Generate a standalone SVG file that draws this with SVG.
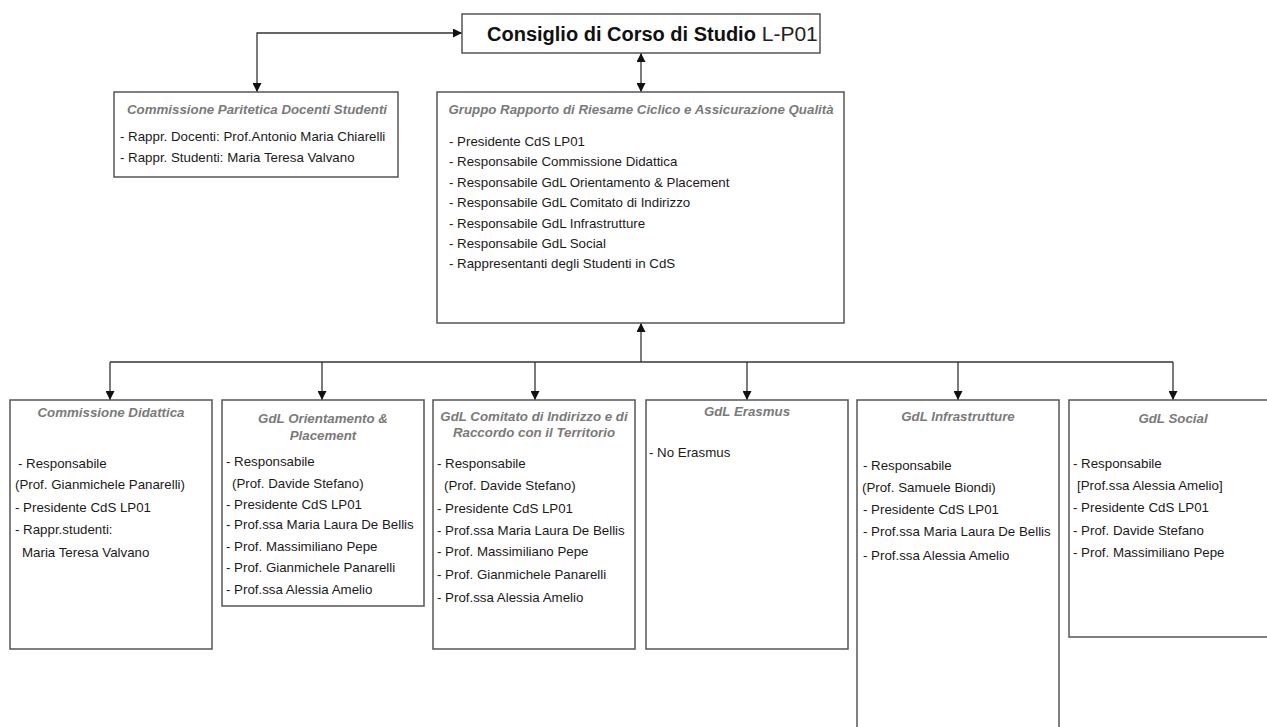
<svg xmlns="http://www.w3.org/2000/svg" width="1267" height="727" viewBox="0 0 1267 727">
<style>
.box{fill:#fff;stroke:#555;stroke-width:1.5}
.t{font-family:"Liberation Sans",Arial,sans-serif;font-size:13.3px;fill:#1a1a1a}
.h{font-family:"Liberation Sans",Arial,sans-serif;font-size:13.3px;font-weight:bold;font-style:italic;fill:#7a7a7a;text-anchor:middle}
.c{fill:none;stroke:#333;stroke-width:1.3}
</style>
<defs>
<marker id="ah" viewBox="0 0 10 10" refX="10" refY="5" markerWidth="9" markerHeight="9" markerUnits="userSpaceOnUse" orient="auto-start-reverse">
<path d="M0,0 L10,5 L0,10 z" fill="#111"/>
</marker>
</defs>
<g id="connectors">
<path class="c" d="M257,92 V33 H462" marker-start="url(#ah)" marker-end="url(#ah)"/>
<path class="c" d="M641,53 V92" marker-start="url(#ah)" marker-end="url(#ah)"/>
<path class="c" d="M641,362 V323" marker-end="url(#ah)"/>
<path class="c" d="M110,362 H1173"/>
<path class="c" d="M110,362 V400" marker-end="url(#ah)"/>
<path class="c" d="M322,362 V400" marker-end="url(#ah)"/>
<path class="c" d="M535,362 V400" marker-end="url(#ah)"/>
<path class="c" d="M747,362 V400" marker-end="url(#ah)"/>
<path class="c" d="M958,362 V400" marker-end="url(#ah)"/>
<path class="c" d="M1173,362 V400" marker-end="url(#ah)"/>
</g>
<g id="consiglio">
<rect class="box" x="462" y="14" width="358" height="39"/>
<text x="487" y="41" font-family="'Liberation Sans',Arial,sans-serif" font-size="20" fill="#111"><tspan font-weight="bold">Consiglio di Corso di Studio</tspan><tspan font-size="21" fill="#222"> L-P01</tspan></text>
</g>
<g id="paritetica">
<rect class="box" x="114" y="92" width="284" height="85"/>
<text class="h" x="257" y="114">Commissione Paritetica Docenti Studenti</text>
<text class="t" x="120" y="141">- Rappr. Docenti: Prof.Antonio Maria Chiarelli</text>
<text class="t" x="120" y="162">- Rappr. Studenti: Maria Teresa Valvano</text>
</g>
<g id="gruppo">
<rect class="box" x="437" y="92" width="407" height="231"/>
<text class="h" x="641" y="114">Gruppo Rapporto di Riesame Ciclico e Assicurazione Qualità</text>
<text class="t" x="449" y="146">- Presidente CdS LP01</text>
<text class="t" x="449" y="166">- Responsabile Commissione Didattica</text>
<text class="t" x="449" y="187">- Responsabile GdL Orientamento &amp; Placement</text>
<text class="t" x="449" y="207">- Responsabile GdL Comitato di Indirizzo</text>
<text class="t" x="449" y="228">- Responsabile GdL Infrastrutture</text>
<text class="t" x="449" y="248">- Responsabile GdL Social</text>
<text class="t" x="449" y="268">- Rappresentanti degli Studenti in CdS</text>
</g>
<g id="didattica">
<rect class="box" x="10" y="400" width="202" height="249"/>
<text class="h" x="111" y="417">Commissione Didattica</text>
<text class="t" x="18" y="468">- Responsabile</text>
<text class="t" x="15" y="489">(Prof. Gianmichele Panarelli)</text>
<text class="t" x="15" y="512">- Presidente CdS LP01</text>
<text class="t" x="15" y="534">- Rappr.studenti:</text>
<text class="t" x="22" y="557">Maria Teresa Valvano</text>
</g>
<g id="orientamento">
<rect class="box" x="222" y="400" width="202" height="206"/>
<text class="h" x="323" y="423">GdL Orientamento &amp;</text>
<text class="h" x="323" y="440">Placement</text>
<text class="t" x="226" y="466">- Responsabile</text>
<text class="t" x="232" y="488">(Prof. Davide Stefano)</text>
<text class="t" x="226" y="509">- Presidente CdS LP01</text>
<text class="t" x="226" y="529">- Prof.ssa Maria Laura De Bellis</text>
<text class="t" x="226" y="551">- Prof. Massimiliano Pepe</text>
<text class="t" x="226" y="572">- Prof. Gianmichele Panarelli</text>
<text class="t" x="226" y="594">- Prof.ssa Alessia Amelio</text>
</g>
<g id="comitato">
<rect class="box" x="433" y="400" width="202" height="249"/>
<text class="h" x="534" y="421">GdL Comitato di Indirizzo e di</text>
<text class="h" x="534" y="437">Raccordo con il Territorio</text>
<text class="t" x="437" y="468">- Responsabile</text>
<text class="t" x="444" y="490">(Prof. Davide Stefano)</text>
<text class="t" x="437" y="513">- Presidente CdS LP01</text>
<text class="t" x="437" y="535">- Prof.ssa Maria Laura De Bellis</text>
<text class="t" x="437" y="556">- Prof. Massimiliano Pepe</text>
<text class="t" x="437" y="579">- Prof. Gianmichele Panarelli</text>
<text class="t" x="437" y="602">- Prof.ssa Alessia Amelio</text>
</g>
<g id="erasmus">
<rect class="box" x="646" y="400" width="202" height="249"/>
<text class="h" x="747" y="416">GdL Erasmus</text>
<text class="t" x="649" y="457">- No Erasmus</text>
</g>
<g id="infrastrutture">
<rect class="box" x="857" y="400" width="202" height="340"/>
<text class="h" x="958" y="421">GdL Infrastrutture</text>
<text class="t" x="863" y="470">- Responsabile</text>
<text class="t" x="862" y="492">(Prof. Samuele Biondi)</text>
<text class="t" x="863" y="514">- Presidente CdS LP01</text>
<text class="t" x="863" y="536">- Prof.ssa Maria Laura De Bellis</text>
<text class="t" x="863" y="560">- Prof.ssa Alessia Amelio</text>
</g>
<g id="social">
<rect class="box" x="1069" y="400" width="210" height="237"/>
<text class="h" x="1173" y="423">GdL Social</text>
<text class="t" x="1073" y="468">- Responsabile</text>
<text class="t" x="1077" y="490">[Prof.ssa Alessia Amelio]</text>
<text class="t" x="1073" y="512">- Presidente CdS LP01</text>
<text class="t" x="1073" y="535">- Prof. Davide Stefano</text>
<text class="t" x="1073" y="557">- Prof. Massimiliano Pepe</text>
</g>
</svg>
